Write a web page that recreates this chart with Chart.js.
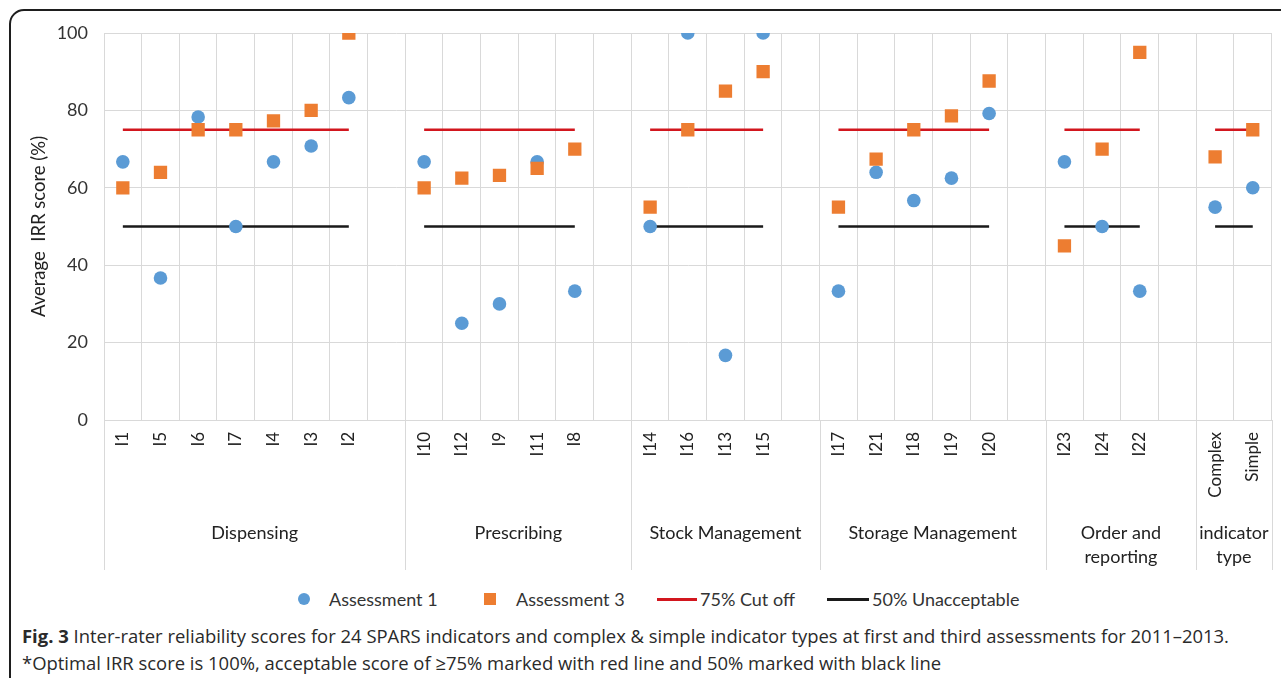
<!DOCTYPE html>
<html>
<head>
<meta charset="utf-8">
<script src="https://cdn.jsdelivr.net/npm/chart.js@4.4.0/dist/chart.umd.min.js"></script>
<style>
body { margin: 0; background: #fff; width: 1281px; height: 678px; overflow: hidden; position: relative; font-family: Lato, sans-serif; }
#frame { position: absolute; left: 9px; top: 9px; width: 1300px; height: 700px; border: 2px solid #1e1e1e; border-radius: 15px; box-sizing: border-box; }
#wrap { position: absolute; left: 0; top: 0; width: 1281px; height: 580px; }
#legend { position: absolute; left: 0; top: 588px; width: 1281px; height: 22px; }
.item { position: absolute; top: 0; height: 22px; font-size: 18px; line-height: 22px; color: #333; white-space: nowrap; }
.mark { position: absolute; }
#caption { position: absolute; left: 22px; top: 622px; font-family: "Open Sans", sans-serif; font-size: 18.45px; line-height: 27px; color: #2a2a2a; white-space: nowrap; }
#caption b { font-weight: 700; }
</style>
</head>
<body>
<div id="frame"></div>
<div id="wrap"><canvas id="irrChart" width="1281" height="580"></canvas></div>
<div id="legend"></div>
<div id="caption">
<div><b>Fig. 3</b> Inter-rater reliability scores for 24 SPARS indicators and complex &amp; simple indicator types at first and third assessments for 2011–2013.</div>
<div>*Optimal IRR score is 100%, acceptable score of ≥75% marked with red line and 50% marked with black line</div>
</div>
<script>
var groupNames = ['Dispensing', 'Prescribing', 'Stock Management', 'Storage Management', ['Order and', 'reporting'], ['indicator', 'type']];

var indicators = [
	['I1', 'I5', 'I6', 'I7', 'I4', 'I3', 'I2'],
	['I10', 'I12', 'I9', 'I11', 'I8'],
	['I14', 'I16', 'I13', 'I15'],
	['I17', 'I21', 'I18', 'I19', 'I20'],
	['I23', 'I24', 'I22'],
	['Complex', 'Simple']
];

var assessment1 = [
	[66.7, 36.7, 78.3, 50, 66.7, 70.8, 83.3],
	[66.7, 25, 30, 66.7, 33.3],
	[50, 100, 16.7, 100],
	[33.3, 64, 56.7, 62.5, 79.2],
	[66.7, 50, 33.3],
	[55, 60]
];

var assessment3 = [
	[60, 64, 75, 75, 77.3, 80, 100],
	[60, 62.5, 63.2, 65, 70],
	[55, 75, 85, 90],
	[55, 67.4, 75, 78.6, 87.6],
	[45, 70, 95],
	[68, 75]
];

var cutOff = 75;
var unacceptable = 50;

var yTicks = [0, 20, 40, 60, 80, 100];

// flatten groups, one empty category after each group but the last
var labels = [], a1 = [], a3 = [], redLine = [], blackLine = [], groupRanges = [];
for (var g = 0; g < indicators.length; g++) {
	var start = labels.length;
	for (var i = 0; i < indicators[g].length; i++) {
		labels.push(indicators[g][i]);
		a1.push(assessment1[g][i]);
		a3.push(assessment3[g][i]);
		redLine.push(cutOff);
		blackLine.push(unacceptable);
	}
	if (g < indicators.length - 1) {
		labels.push('');
		a1.push(null); a3.push(null); redLine.push(null); blackLine.push(null);
	}
	groupRanges.push([start, labels.length - 1]);
}

var blue = '#5b9bd5', orange = '#ed7d31', red = '#d2161e', black = '#1a1a1a';
var gridColor = '#d9d9d9';

var groupAxis = {
	id: 'groupAxis',
	afterDraw: function(chart) {
		var ctx = chart.ctx;
		var xs = chart.scales.x;
		var half = xs.width / labels.length / 2;
		var top = chart.chartArea.bottom;
		ctx.save();
		ctx.strokeStyle = gridColor;
		ctx.lineWidth = 1;
		ctx.fillStyle = '#222';
		ctx.font = '18px Lato';
		ctx.textAlign = 'center';
		ctx.textBaseline = 'middle';
		groupRanges.forEach(function(r, k) {
			var left = xs.getPixelForValue(r[0]) - half;
			var right = xs.getPixelForValue(r[1]) + half;
			[left, right].forEach(function(x) {
				ctx.beginPath();
				ctx.moveTo(Math.round(x) + 0.5, top);
				ctx.lineTo(Math.round(x) + 0.5, 570);
				ctx.stroke();
			});
			var name = [].concat(groupNames[k]);
			name.forEach(function(line, j) {
				ctx.fillText(line, (left + right) / 2, 533 + j * 24);
			});
		});
		ctx.restore();
	}
};

var ctx = document.getElementById('irrChart');
var irrChart = new Chart(ctx, {
	type: 'line',
	data: {
		labels: labels,
		datasets: [
			{
				label: 'Assessment 1',
				data: a1,
				showLine: false,
				pointStyle: 'circle',
				pointRadius: 6.8,
				backgroundColor: blue,
				borderColor: blue,
				pointBorderWidth: 0,
				order: 1
			},
			{
				label: 'Assessment 3',
				data: a3,
				showLine: false,
				pointStyle: 'rect',
				pointRadius: 9.4,
				backgroundColor: orange,
				borderColor: orange,
				pointBorderWidth: 0,
				order: 0
			},
			{
				label: '75% Cut off',
				data: redLine,
				borderColor: red,
				borderWidth: 2.5,
				pointRadius: 0,
				spanGaps: false,
				order: 2
			},
			{
				label: '50% Unacceptable',
				data: blackLine,
				borderColor: black,
				borderWidth: 2.5,
				pointRadius: 0,
				spanGaps: false,
				order: 2
			}
		]
	},
	options: {
		responsive: false,
		animation: false,
		layout: { padding: { left: 28, top: 33, right: 4, bottom: 10 } },
		plugins: {
			legend: { display: false },
			tooltip: { enabled: false }
		},
		scales: {
			x: {
				offset: true,
				grid: { offset: true, color: gridColor, drawTicks: false },
				border: { color: gridColor },
				ticks: {
					autoSkip: false,
					minRotation: 90,
					maxRotation: 90,
					padding: 12,
					color: '#222',
					font: { family: 'Lato', size: 17 }
				},
				afterFit: function(scale) {
					scale.height = 150;
					scale.paddingLeft = 0;
					scale.paddingRight = 0;
				}
			},
			y: {
				min: 0,
				max: 100,
				afterBuildTicks: function(scale) {
					scale.ticks = yTicks.map(function(v) { return { value: v }; });
				},
				grid: { color: gridColor, drawTicks: false },
				border: { color: gridColor },
				ticks: {
					padding: 16,
					color: '#333',
					font: { family: 'Lato', size: 18 }
				},
				title: {
					display: true,
					text: 'Average  IRR score (%)',
					color: '#222',
					font: { family: 'Lato', size: 18.5 },
					padding: 0
				},
				afterFit: function(scale) { scale.width = 104 - 28; }
			}
		}
	},
	plugins: [groupAxis]
});

// html legend from the datasets
var legendPos = [
	{ mark: 298, text: 329 },
	{ mark: 484, text: 516 },
	{ mark: 657, text: 700 },
	{ mark: 827, text: 872 }
];
var legendEl = document.getElementById('legend');
irrChart.data.datasets.forEach(function(ds, k) {
	var p = legendPos[k];
	var mark = document.createElement('div');
	mark.className = 'mark';
	if (ds.pointStyle === 'circle') {
		mark.style.cssText = 'left:' + p.mark + 'px;top:5px;width:12px;height:12px;border-radius:50%;background:' + ds.backgroundColor;
	} else if (ds.pointStyle === 'rect') {
		mark.style.cssText = 'left:' + p.mark + 'px;top:5px;width:12px;height:12px;background:' + ds.backgroundColor;
	} else {
		mark.style.cssText = 'left:' + p.mark + 'px;top:10px;width:' + (p.text - p.mark - 3) + 'px;height:2.5px;background:' + ds.borderColor;
	}
	legendEl.appendChild(mark);
	var txt = document.createElement('div');
	txt.className = 'item';
	txt.style.left = p.text + 'px';
	txt.textContent = ds.label;
	legendEl.appendChild(txt);
});
</script>
</body>
</html>
